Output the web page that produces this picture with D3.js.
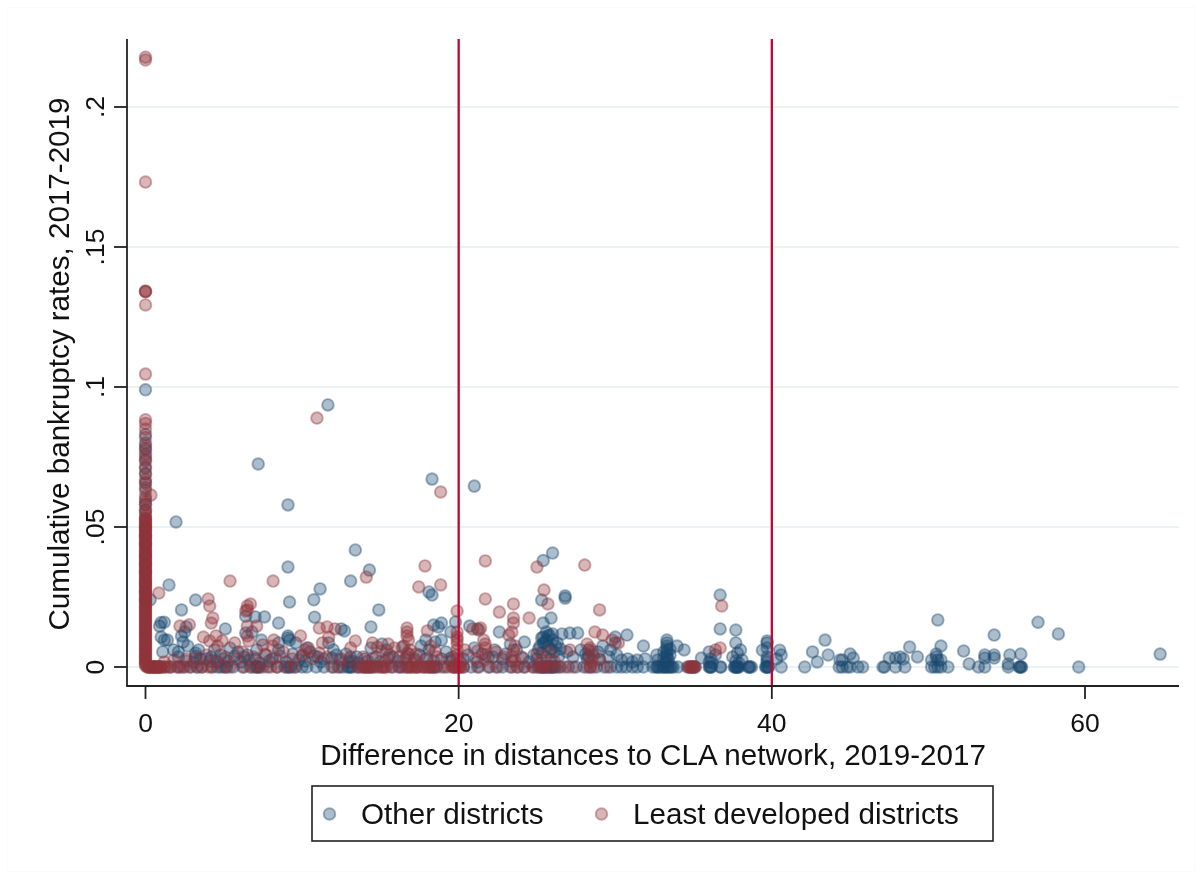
<!DOCTYPE html>
<html><head><meta charset="utf-8">
<script src="https://cdn.jsdelivr.net/npm/d3@7"></script>
<style>html,body{margin:0;padding:0;background:#fff}svg{display:block;filter:blur(.45px)}text{font-family:"Liberation Sans",Arial,sans-serif;fill:#111}</style>
</head><body><svg id="c" width="1203" height="879"></svg>
<script>
const xTicks=[0,20,40,60];
const yTicks=[0,.05,.1,.15,.2];
const yTickLabels=["0",".05",".1",".15",".2"];
const referenceLines=[20,40];
const xTitle="Difference in distances to CLA network, 2019-2017";
const yTitle="Cumulative bankruptcy rates, 2017-2019";
const seriesNames=["Other districts","Least developed districts"];

// x values of districts with a rate of about zero
const otherOnAxisX=[.6,.9,1.2,1.6,2.1,2.4,2.9,3.3,3.6,4.2,4.8,5.1,5.6,6.2,6.7,7.3,7.8,8.4,8.9,9.2,9.6,10,10.3,10.9,11.4,12,12.3,12.6,13.1,13.6,13.9,14.1,14.4,14.8,15.2,15.7,16.2,16.8,17.3,17.8,18.2,18.6,19.1,19.7,20.3,20.8,21.3,21.9,22.4,22.8,23.3,23.8,24.2,24.8,25.1,25.3,25.5,25.7,25.9,26.2,26.5,27,27.5,28,28.4,28.8,29.3,29.7,30.1,30.4,30.7,31.1,31.4,31.8,32.4,32.7,32.9,33.1,33.3,33.5,33.7,34,34.6,35,35.1,36,36.05,36.7,36.75,37.6,37.7,37.8,37.9,38.5,38.6,38.7,39.6,39.7,39.8,40.6,42.1,44.3,44.5,44.8,45,45.5,45.8,47.1,47.2,47.9,48.5,50.2,50.4,50.6,50.8,51.25,53.2,53.6,55.1,55.8,55.85,55.9,55.95,59.6,
4.6,5.2,7,7.1,7.2,9.1,9.3,12.9,13,13.2,14.3,16.4,18.4,25.2,25.4,25.6,25.8,26,26.1,32.6,32.75,33.05,33.2,33.4,33.6,36.1,36.15,37.65,37.75,37.85,38.55,39.65,39.75];
const otherColumnY=[.099,.083,.08,.078,.076,.074,.071,.069,.066,.064,.06,.058,.056,.053,.05,.047,.044,.04,.037,.034,.03,.027,.024];
const otherScatter=[[11.65,.0936],[7.2,.0725],[9.1,.0579],[1.95,.0518],[18.3,.0671],[21,.0646],[13.4,.0418],[26,.0407],[25.4,.038],[9.1,.0357],[14.3,.0346],[11.15,.0279],[13.1,.0307],[1.5,.0293],[10.75,.024],[9.2,.0232],[3.2,.0239],[2.3,.0204],[14.9,.0204],[18.1,.0268],[18.3,.0257],[25.3,.0239],[26.8,.0254],[26.8,.0246],[36.7,.0257],[36.7,.0136],[37.7,.0132],[50.6,.0168],[57,.016],[58.3,.0118],[54.2,.0114],[43.4,.0096],[64.8,.0046],
[.3,.024],[1,.0159],[1.2,.016],[.9,.0146],[2.6,.0143],[8.5,.0157],[7.6,.0179],[7,.0179],[6.4,.0181],[5.1,.0136],[6.4,.0121],[6.8,.0125],[8.5,.0086],[10.8,.0178],[12.5,.0136],[12.7,.0129],[14.4,.0143],[18.9,.0157],[18.4,.015],[18.7,.0143],[19.8,.0161],[20.7,.0146],[21.2,.0136],[22.6,.0125],[25.4,.0157],[25.9,.0175],[25.6,.0125],[25.8,.0114],[25.4,.0107],[26,.0096],[26.3,.0086],[25.5,.0086],[25.2,.0075],[26.6,.0118],[27.1,.0121],[27.6,.0121],[28.3,.0061],[28.9,.0054],[29.2,.0075],[30,.0107],[30.75,.0114],[31.8,.0075],[30,.0086],[29.7,.0061],[33.3,.0096],[33.3,.0086],[33.3,.0075],[33.3,.0064],[33.3,.0054],[33.3,.0043],[33.3,.0032],[33.3,.0018],[32.65,.0043],[32.7,.0025],[33.95,.0075],[34.4,.0061],[35.5,.0032],[36,.0054],[36.4,.0043],[36.1,.0029],[37.7,.0086],[38,.0061],[37.8,.005],[37.5,.0036],[38.1,.0025],[39.7,.0093],[39.7,.0086],[39.7,.0068],[39.7,.0036],[39.7,.0025],[39.7,.0018],[40.5,.006],[40.6,.0043],[39.4,.006],[40.3,.0029],[42.6,.0054],[42.9,.0018],[43.6,.0043],[44.35,.0025],[45,.0046],[44.5,.0025],[45.2,.0032],[47.5,.0032],[47.9,.0032],[48.2,.0036],[48.4,.0029],[48.8,.0071],[49.3,.0036],[50.5,.0046],[50.5,.0036],[50.6,.0025],[50.8,.0025],[50.2,.0025],[50.8,.0075],[52.25,.0057],[52.6,.0011],[53.6,.0043],[53.6,.0032],[54.2,.0043],[54.2,.0032],[55.2,.0043],[55.9,.0046],[55.1,.0011],
[1.1,.0054],[1.4,.0096],[1,.0107],[1.2,.0096],[1.8,.0061],[2.1,.0054],[2.4,.0089],[2.5,.0125],[2.3,.0111],[2.7,.0075],[3.2,.005],[3.2,.0039],[3.5,.0029],[4.1,.0021],[4.4,.0061],[4.8,.0043],[5,.0029],[5.4,.0068],[5.9,.0054],[6.3,.0036],[6.6,.0025],[7.1,.0061],[7.4,.0096],[7.7,.0043],[8.1,.0029],[8.5,.0061],[9.1,.0111],[9.1,.0104],[9.2,.0096],[9.6,.0086],[10,.0039],[10.3,.0068],[10.5,.0054],[11,.0036],[11.4,.0029],[11.7,.0086],[12,.0061],[12.2,.0043],[12.4,.0025],[13,.0018],[13.5,.0036],[14,.0029],[14.4,.0068],[15.1,.0082],[15.4,.0061],[15.8,.0036],[16.4,.0071],[16.8,.0046],[17.2,.0029],[17.6,.0075],[17.9,.0096],[18.1,.0061],[18.5,.0089],[18.9,.0096],[19.2,.0054],[19.5,.0125],[19.6,.0036],[20.3,.0029],[21,.0068],[21.5,.0046],[21.9,.0036],[22.3,.0061],[22.8,.0029],[23.3,.0082],[23.7,.0061],[24.2,.0089],[24.8,.0043],[25,.0029],[25.3,.005],[25.6,.0036],[25.9,.0029],[26.1,.0054],[26.4,.0039],[26.9,.0054],[27.3,.0036],[27.8,.0061],[28.2,.0029],[28.6,.0043],[29,.0025],[29.6,.0036],[30.1,.0043],[30.4,.0025],[30.8,.0029],[31.1,.0018],[31.4,.0025],[31.9,.0029],
[2.1,.0036],[2.6,.0021],[3.1,.0018],[3.4,.0061],[3.9,.0029],[4.2,.0036],[4.6,.0018],[5.3,.0021],[5.7,.0039],[6.1,.0018],[6.5,.0043],[7,.0029],[7.3,.0014],[7.9,.0021],[8.6,.0039],[9,.0018],[9.4,.0046],[9.8,.0025],[10.2,.0021],[10.8,.0039],[11.2,.0018],[11.9,.0032],[12.8,.0046],[13.1,.0036],[13.2,.0021],[13.6,.0014],[14.2,.0021],[14.7,.0036],[15,.0018],[15.5,.0032],[16.1,.0021],[16.6,.0029],[17.5,.0043],[18,.0032],[18.4,.0021],[18.9,.0029],[19.5,.0021],[20.6,.0043],[21.2,.0018],[22.2,.0036],[23,.0046],[23.4,.0021],[24.1,.0032],[24.5,.0018],[25.1,.0064],[25.4,.0086],[25.6,.0096],[25.7,.0075],[25.9,.0064],[25.3,.0104],[25.7,.0111],[26,.0118],[26.2,.0075],[26.5,.0064],[28.1,.0046],[28.3,.0039],[33.1,.0032],[33.5,.0043],[33.1,.0054],[33.5,.0064],[33.2,.0018],[33.4,.0025],[36,.0018],[36.2,.0014],[37.7,.0021],[37.9,.0014]];
const leastOnAxisX=[.1,.2,.3,.4,.5,.6,.7,.8,.9,1,1.2,1.4,1.6,2,2.2,2.5,2.8,3.3,3.6,4,4.3,5,5.4,6.3,6.8,7.2,7.5,8,8.4,9,9.5,11.9,12.4,13.5,13.7,14,14.3,14.6,15,15.4,15.8,16.2,16.6,17,17.4,17.8,18,18.2,18.5,18.9,19.3,19.6,19.8,20,20.1,20.3,21.2,22,22.5,23.4,23.7,24.2,24.7,25,25.4,25.8,26,26.4,26.8,27.3,28.2,28.4,28.6,29.5,34.7,34.8,34.95,35.1,
.15,.25,.35,.45,.55,.65,.75,.85,.95,14,14.2,14.5,15.1,15.3,16.7,16.9,17.1,17.3,17.6,18.1,18.4,19.7,19.9,20.05,25.3,25.5,34.75,34.85,34.9,35];
const leastColumnY=[.2178,.2168,.1732,.1343,.1341,.134,.1293,.1046,.0883,.087,.085,.082,.079,.0775,.075,.0735,.0715,.069,.067,.0655,.063,.061,.059,.058,.056,.055,.054,.053,.052,.051,.05,.049,.048,.047,.046,.045,.044,.043,.042,.041,.04,.039,.038,.037,.036,.035,.034,.033,.032,.031,.03,.029,.028,.027,.026,.025,.024,.023,.022,.021,.02,.019,.018,.017,.016,.015,.014,.013,.012,.011,.01,.009,.008,.007,.006,.005,.004,.003,.002,.001,
.0525,.0515,.0505,.0495,.0485,.0475,.0465,.0455,.0445,.0435,.0425,.0415,.0405,.0395,.0385,.0375,.0365,.0355,.0345,.0335,.0325,.0315,.0305,.0295,.0285,.0275,.0265,.0255,.0245,.0235,.0225,.0215,.0205,.0195,.0185,.0175,.0165,.0155,.0145,.0135,.0125,.0115,.0105,.0095,.0085,.0075,.0065,.0055,.0045,.0035,.0025,.0015,.0005];
const leastScatter=[[.35,.0614],[10.95,.0889],[18.85,.0625],[21.7,.0379],[17.85,.0361],[28.05,.0364],[25,.0357],[5.4,.0307],[8.15,.0307],[14.1,.0321],[17.45,.0286],[18.85,.0293],[25.45,.0275],[.85,.0264],[4,.0243],[4.1,.0218],[6.7,.0225],[6.5,.0218],[6.5,.0204],[6.4,.02],[21.7,.0243],[23.5,.0225],[25.7,.0225],[36.8,.0218],[29,.0204],[19.9,.02],[22.6,.0196],[23.5,.0175],[24.5,.0175],[23.5,.0157],[4.3,.0175],[4.2,.0157],[2.2,.0146],[2.8,.0151],[6.5,.0146],[7.1,.0146],[11.1,.0139],[11.6,.0143],[12.1,.0136],[20.9,.0136],[21.4,.0139],[23.4,.0125],[23.2,.0114],[28.7,.0125],[29.2,.0114],[29.8,.0096],[30.2,.0086],[16.7,.0139],[16.7,.0125],[16.7,.0111],[16.8,.0096],[18,.0129],[19.9,.0125],[19.9,.0107],[19.9,.0096],[19.9,.0082],[21.3,.0132],[21.6,.0096],[21.7,.0082],[21.7,.0068],[36.4,.0061],[36.7,.0068],
[3.7,.0107],[4.1,.0093],[4.5,.0111],[4.9,.0093],[4.6,.0075],[6.6,.0093],[6.5,.0111],[5.7,.0086],[7.5,.0079],[8.2,.0096],[8.1,.0075],[9.9,.0111],[10.4,.0068],[10.2,.0061],[11.7,.0107],[11.3,.0086],[13.4,.0093],[13.1,.0068],[14.5,.0086],[14.8,.0071],[15.5,.0082],[15.1,.0057],[15.9,.0068],[16.5,.0075],[16.9,.0061],[17.3,.0046],[18.2,.0075],[18.5,.0057],[20.4,.0061],[21.2,.0057],[22.4,.0054],[22.9,.0036],[23.6,.0075],[23.5,.0061],[24,.0036],[25,.0046],[25.8,.0054],[27.1,.0061],[28.2,.0082],[28.4,.0068],[28.5,.0057],[29,.0029],
[1.2,.0018],[1.8,.0025],[2.6,.0029],[3.2,.0032],[3.9,.0043],[4.5,.0021],[5.1,.0036],[5.8,.0029],[6.2,.0054],[6.9,.0036],[7.6,.0046],[8.3,.0032],[8.8,.0054],[9.4,.0029],[10,.0043],[10.7,.0029],[11.1,.005],[11.6,.0036],[12.5,.0029],[13,.0025],[13.9,.0036],[14.5,.0029],[15.3,.0021],[15.6,.0043],[16.2,.0036],[16.7,.005],[16.7,.0036],[17.2,.0021],[17.9,.0029],[18.6,.0036],[19.4,.0029],[19.9,.0061],[19.9,.0043],[19.9,.0029],[20.1,.0018],[21.1,.0029],[21.7,.0043],[21.7,.0025],[23.4,.0036],[23.6,.0021],[25.3,.0025],[26.1,.0021],[28.3,.0036],[28.5,.0021]];

const W=1203,H=879,L=127,R=1179,T=39,B=686;
const x=d3.scaleLinear().domain([0,60]).range([145.5,1085]);
const y=d3.scaleLinear().domain([0,.2]).range([667,107]);
const svg=d3.select("#c");
svg.append("rect").attr("x",7.5).attr("y",7.5).attr("width",W-15).attr("height",H-15).attr("fill","#fff").attr("stroke","#fbfbfb");

svg.append("g").selectAll("line").data(yTicks).join("line")
 .attr("x1",L).attr("x2",R).attr("y1",d=>y(d)).attr("y2",d=>y(d))
 .attr("stroke","#eaf2f3").attr("stroke-width",2);

const build=(ax,col,sc)=>[...ax.map(v=>[v,0]),...col.map(v=>[0,v]),...sc];
const styles=[{c:"#1a476f"},{c:"#90353b"}];
const dot=(g,s)=>g.attr("r",5.8).attr("fill",s.c).attr("fill-opacity",.36).attr("stroke",s.c).attr("stroke-opacity",.42).attr("stroke-width",1.9);
const draw=(pts,s)=>svg.append("g").selectAll("circle").data(pts).join("circle")
 .attr("cx",d=>x(d[0])).attr("cy",d=>y(d[1])).call(dot,s);
draw(build(otherOnAxisX,otherColumnY,otherScatter),styles[0]);
draw(build(leastOnAxisX,leastColumnY,leastScatter),styles[1]);

svg.append("g").selectAll("line").data(referenceLines).join("line")
 .attr("x1",d=>x(d)).attr("x2",d=>x(d)).attr("y1",T).attr("y2",B)
 .attr("stroke","#c10534").attr("stroke-width",2.3);

const ax=svg.append("g").attr("stroke","#222").attr("stroke-width",1.8);
ax.append("line").attr("x1",L).attr("x2",L).attr("y1",T).attr("y2",B+1);
ax.append("line").attr("x1",L).attr("x2",R).attr("y1",B).attr("y2",B);
ax.selectAll(".xt").data(xTicks).join("line").attr("x1",d=>x(d)).attr("x2",d=>x(d)).attr("y1",B).attr("y2",B+13);
ax.selectAll(".yt").data(yTicks).join("line").attr("x1",L-13).attr("x2",L).attr("y1",d=>y(d)).attr("y2",d=>y(d));

svg.append("g").selectAll("text").data(xTicks).join("text").attr("x",d=>x(d)).attr("y",731.5)
 .attr("text-anchor","middle").attr("font-size",26.5).text(d=>d);
svg.append("g").selectAll("text").data(yTicks).join("text")
 .attr("transform",d=>`translate(104,${y(d)}) rotate(-90)`).attr("text-anchor","middle")
 .attr("font-size",26.5).text((d,i)=>yTickLabels[i]);
svg.append("text").attr("x",653).attr("y",765).attr("text-anchor","middle").attr("font-size",29.6).text(xTitle);
svg.append("text").attr("transform","translate(69,364) rotate(-90)").attr("text-anchor","middle").attr("font-size",29.6).text(yTitle);

const lg=svg.append("g");
lg.append("rect").attr("x",312).attr("y",786).attr("width",681).attr("height",55).attr("fill","#fff").attr("stroke","#222").attr("stroke-width",1.6);
const lgX=[330,602],lgT=[361,633];
seriesNames.forEach((n,i)=>{
 lg.append("circle").attr("cx",lgX[i]-.5).attr("cy",814).call(dot,styles[i]);
 lg.append("text").attr("x",lgT[i]).attr("y",824).attr("font-size",29.6).text(n);
});
</script></body></html>
